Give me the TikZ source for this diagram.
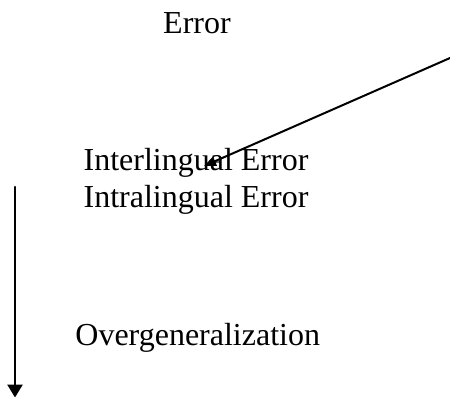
\documentclass[tikz,border=0pt]{standalone}
\usepackage{fontspec}
\setmainfont{Liberation Serif}
\usetikzlibrary{arrows.meta,positioning}

\begin{document}
\begin{tikzpicture}[
  x=0.5pt, y=-0.5pt,
  line cap=round, line join=round,
  lbl/.style  ={font=\fontsize{16}{19}\selectfont, inner sep=0pt, anchor=base},
  flow/.style ={black, line width=1.3pt, -{Triangle[length=6.5pt,width=7.5pt]}},
  link/.style ={black, line width=1pt, -{Triangle[length=6pt,width=4.8pt]}}
]

% page size (reference pixels)
\useasboundingbox (0,0) rectangle (450,398);

% --- labels --------------------------------------------------------
\node[lbl] (err)   at (197,33)  {Error};
\node[lbl] (inter) at (196,170) {Interlingual Error};
\node[lbl] (intra) at (196,207) {Intralingual Error};
\node[lbl, anchor=base west] (over) at (75,345) {Overgeneralization};

% --- arrow ends ----------------------------------------------------
\coordinate (linkstart) at (450,58);
\coordinate (linkend)   at (204,166);
\coordinate (flowtop)   at (15,187);
\coordinate (flowbot)   at (15,397.5);

\draw[link] (linkstart) -- (linkend);
\draw[flow] (flowtop) -- (flowbot);

\end{tikzpicture}
\end{document}
